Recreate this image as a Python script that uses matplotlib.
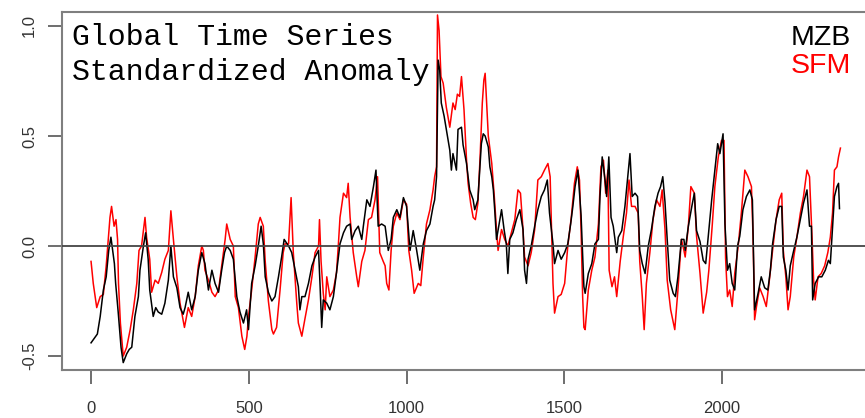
import numpy as np
import matplotlib
matplotlib.use("Agg")
import matplotlib.pyplot as plt

# values (index, standardized anomaly)
mzb_t = [0, 10, 20, 29, 39, 48, 56, 63, 74, 78, 86, 95, 102, 113, 121, 129, 139, 150, 155, 166,
         173, 181, 186, 197, 205, 213, 224, 234, 245, 253, 261, 272, 282, 292, 298, 308, 319, 330, 340, 351,
         361, 372, 383, 393, 404, 414, 423, 430, 441, 451, 462, 472, 483, 493, 499, 509, 520, 530, 539, 546,
         552, 562, 573, 583, 594, 604, 612, 626, 636, 647, 657, 662, 668, 678, 689, 700, 710, 721, 726, 731,
         736, 747, 757, 768, 778, 789, 800, 810, 821, 826, 837, 847, 858, 863, 874, 884, 895, 903, 910, 921,
         932, 942, 951, 958, 969, 979, 990, 1000, 1011, 1021, 1032, 1042, 1053, 1063, 1074, 1084, 1089, 1095, 1100, 1105,
         1110, 1119, 1126, 1137, 1142, 1147, 1158, 1163, 1174, 1179, 1190, 1200, 1211, 1216, 1226, 1232, 1237, 1243, 1249, 1259,
         1264, 1270, 1275, 1280, 1285, 1292, 1301, 1309, 1316, 1321, 1327, 1337, 1348, 1359, 1369, 1374, 1380, 1385, 1395, 1406,
         1416, 1427, 1437, 1446, 1453, 1464, 1469, 1480, 1490, 1501, 1511, 1520, 1527, 1534, 1543, 1553, 1562, 1566, 1576, 1587,
         1597, 1608, 1613, 1620, 1629, 1634, 1641, 1648, 1655, 1666, 1671, 1682, 1692, 1700, 1708, 1715, 1724, 1732, 1739, 1747,
         1756, 1766, 1776, 1787, 1797, 1805, 1812, 1819, 1826, 1834, 1845, 1852, 1860, 1871, 1879, 1883, 1893, 1904, 1912, 1919,
         1930, 1940, 1948, 1956, 1967, 1977, 1986, 1993, 2003, 2009, 2017, 2024, 2032, 2040, 2049, 2056, 2066, 2077, 2088, 2096,
         2103, 2114, 2124, 2135, 2145, 2153, 2160, 2171, 2181, 2189, 2194, 2202, 2209, 2216, 2227, 2237, 2248, 2258, 2269, 2277,
         2283, 2287, 2295, 2306, 2316, 2327, 2337, 2343, 2348, 2356, 2364, 2369, 2372]
mzb_v = [-0.44, -0.42, -0.40, -0.32, -0.20, -0.14, -0.02, 0.04, -0.08, -0.17, -0.30, -0.46, -0.53, -0.49, -0.47, -0.46, -0.32, -0.23, -0.11, 0.00,
         0.06, -0.06, -0.20, -0.32, -0.28, -0.30, -0.31, -0.26, -0.155, 0.00, -0.14, -0.19, -0.28, -0.31, -0.28, -0.21, -0.29, -0.23, -0.11, -0.03,
         -0.08, -0.20, -0.11, -0.17, -0.21, -0.11, -0.03, 0.00, -0.02, -0.06, -0.23, -0.30, -0.35, -0.29, -0.38, -0.17, -0.09, 0.00, 0.09, 0.01,
         -0.14, -0.21, -0.25, -0.23, -0.14, -0.05, 0.03, 0.00, -0.03, -0.11, -0.185, -0.29, -0.23, -0.23, -0.17, -0.09, -0.05, -0.02, -0.185, -0.37,
         -0.245, -0.26, -0.29, -0.23, -0.12, 0.01, 0.06, 0.09, 0.10, 0.03, 0.07, 0.09, 0.03, 0.09, 0.21, 0.18, 0.27, 0.345, 0.09, 0.10,
         0.09, -0.02, 0.03, 0.13, 0.165, 0.13, 0.22, 0.18, -0.02, 0.07, -0.02, -0.11, 0.01, 0.07, 0.10, 0.18, 0.21, 0.315, 0.845, 0.80,
         0.65, 0.59, 0.53, 0.435, 0.345, 0.42, 0.345, 0.53, 0.54, 0.46, 0.375, 0.255, 0.21, 0.165, 0.21, 0.345, 0.465, 0.51, 0.50, 0.45,
         0.36, 0.315, 0.255, 0.15, 0.03, 0.09, 0.165, 0.075, 0.01, -0.125, 0.03, 0.06, 0.12, 0.165, 0.075, -0.11, -0.17, -0.06, 0.00, 0.09,
         0.165, 0.225, 0.255, 0.30, 0.15, 0.01, -0.08, -0.02, -0.06, -0.03, 0.01, 0.10, 0.18, 0.27, 0.345, 0.14, -0.185, -0.215, -0.125, -0.08,
         0.01, 0.03, 0.225, 0.405, 0.30, 0.225, 0.405, 0.13, 0.09, -0.03, 0.04, 0.07, 0.18, 0.30, 0.42, 0.225, 0.24, 0.225, -0.02, -0.08,
         -0.125, 0.00, 0.075, 0.18, 0.24, 0.27, 0.315, 0.20, 0.03, -0.155, -0.215, -0.23, -0.14, 0.03, 0.03, -0.02, 0.09, 0.18, 0.24, 0.07,
         0.02, -0.065, -0.08, 0.04, 0.21, 0.345, 0.465, 0.42, 0.51, 0.10, -0.11, -0.08, -0.17, -0.20, 0.00, 0.045, 0.165, 0.225, 0.255, 0.21,
         -0.29, -0.215, -0.14, -0.19, -0.20, -0.11, 0.01, 0.12, 0.18, 0.18, -0.05, -0.11, -0.20, -0.09, -0.02, 0.04, 0.12, 0.195, 0.255, 0.09,
         0.09, -0.245, -0.17, -0.14, -0.14, -0.11, -0.065, -0.08, 0.04, 0.225, 0.27, 0.285, 0.17]

sfm_t = [0, 7, 18, 29, 39, 48, 60, 65, 73, 79, 84, 87, 93, 102, 113, 124, 134, 145, 152, 160,
         171, 176, 186, 192, 203, 213, 224, 234, 245, 253, 261, 272, 282, 296, 308, 319, 330, 340, 351, 356,
         361, 372, 383, 393, 404, 414, 425, 430, 441, 451, 457, 467, 478, 487, 494, 499, 509, 520, 530, 536,
         546, 552, 562, 573, 578, 588, 599, 609, 615, 626, 634, 641, 652, 657, 668, 678, 689, 700, 710, 721,
         724, 729, 736, 742, 747, 757, 768, 778, 784, 789, 800, 810, 815, 821, 831, 842, 847, 858, 868, 879,
         889, 900, 908, 915, 926, 932, 937, 944, 951, 958, 969, 979, 990, 1000, 1007, 1016, 1024, 1037, 1045, 1053,
         1063, 1074, 1084, 1089, 1095, 1098, 1103, 1109, 1116, 1126, 1137, 1147, 1154, 1161, 1168, 1174, 1182, 1190, 1195, 1203,
         1211, 1218, 1226, 1233, 1240, 1245, 1249, 1259, 1270, 1278, 1285, 1290, 1301, 1311, 1321, 1332, 1343, 1353, 1361, 1369,
         1374, 1385, 1395, 1406, 1416, 1427, 1437, 1448, 1455, 1464, 1469, 1480, 1490, 1501, 1511, 1522, 1532, 1541, 1548, 1553,
         1558, 1562, 1566, 1576, 1587, 1597, 1608, 1616, 1624, 1631, 1638, 1642, 1651, 1659, 1666, 1677, 1687, 1697, 1705, 1713,
         1724, 1734, 1739, 1747, 1753, 1760, 1771, 1781, 1792, 1803, 1810, 1819, 1826, 1837, 1850, 1860, 1871, 1879, 1883, 1893,
         1901, 1912, 1919, 1930, 1940, 1951, 1958, 1969, 1977, 1988, 1998, 2006, 2011, 2017, 2024, 2032, 2040, 2051, 2061, 2072,
         2082, 2093, 2098, 2103, 2109, 2119, 2130, 2140, 2151, 2160, 2171, 2181, 2189, 2194, 2202, 2209, 2216, 2227, 2237, 2248,
         2258, 2269, 2277, 2285, 2290, 2295, 2304, 2314, 2325, 2335, 2343, 2350, 2356, 2364, 2369, 2375]
sfm_v = [-0.07, -0.17, -0.28, -0.23, -0.22, -0.09, 0.13, 0.18, 0.09, 0.12, 0.03, -0.17, -0.35, -0.50, -0.46, -0.38, -0.29, -0.17, -0.02, 0.00,
         0.13, 0.04, -0.06, -0.21, -0.155, -0.17, -0.12, -0.06, -0.02, 0.16, 0.03, -0.14, -0.26, -0.37, -0.28, -0.32, -0.23, -0.09, 0.00, -0.02,
         -0.11, -0.155, -0.21, -0.23, -0.20, -0.09, 0.03, 0.10, 0.03, 0.00, -0.23, -0.28, -0.41, -0.47, -0.41, -0.32, -0.20, -0.05, 0.10, 0.13,
         0.09, -0.07, -0.25, -0.38, -0.40, -0.37, -0.20, -0.03, 0.01, 0.01, 0.22, -0.03, -0.26, -0.35, -0.41, -0.33, -0.245, -0.14, -0.03, 0.00,
         0.12, -0.07, -0.215, -0.29, -0.14, -0.23, -0.20, -0.12, 0.01, 0.13, 0.24, 0.22, 0.285, 0.13, -0.03, -0.14, -0.185, -0.07, -0.02, 0.12,
         0.13, 0.21, 0.315, -0.03, -0.07, -0.09, -0.17, -0.20, -0.02, 0.09, 0.15, 0.12, 0.21, 0.19, -0.02, -0.11, -0.215, -0.17, -0.18, -0.05,
         0.10, 0.165, 0.255, 0.315, 0.36, 1.05, 0.98, 0.77, 0.74, 0.63, 0.54, 0.65, 0.62, 0.69, 0.68, 0.77, 0.62, 0.39, 0.285, 0.195,
         0.13, 0.12, 0.195, 0.405, 0.65, 0.755, 0.785, 0.50, 0.375, 0.225, 0.075, -0.02, 0.075, 0.03, 0.00, 0.06, 0.12, 0.255, 0.24, 0.075,
         -0.05, -0.09, -0.03, 0.075, 0.30, 0.315, 0.345, 0.375, 0.315, -0.17, -0.305, -0.23, -0.22, -0.17, 0.00, 0.13, 0.285, 0.36, 0.30, 0.075,
         -0.23, -0.37, -0.38, -0.20, -0.11, -0.05, 0.10, 0.36, 0.39, 0.24, 0.345, -0.11, -0.185, -0.14, -0.23, -0.07, 0.045, 0.15, 0.30, 0.18,
         0.18, 0.15, -0.07, -0.23, -0.38, -0.17, -0.03, 0.12, 0.21, 0.18, 0.255, 0.075, -0.155, -0.29, -0.38, -0.20, 0.03, -0.02, -0.05, 0.09,
         0.27, 0.24, 0.045, -0.125, -0.305, -0.21, -0.11, 0.10, 0.27, 0.405, 0.48, 0.48, -0.055, -0.23, -0.20, -0.275, -0.125, 0.00, 0.15, 0.345,
         0.315, 0.27, 0.045, -0.335, -0.275, -0.19, -0.23, -0.275, -0.14, -0.02, 0.12, 0.21, 0.24, -0.02, -0.14, -0.29, -0.23, -0.05, 0.04, 0.15,
         0.225, 0.345, 0.315, 0.04, -0.155, -0.245, -0.14, -0.125, -0.09, -0.03, 0.04, 0.15, 0.345, 0.36, 0.405, 0.445]

x_ticks = [0, 500, 1000, 1500, 2000]
y_ticks = [-0.5, 0.0, 0.5, 1.0]

tick_font = ['Liberation Sans Narrow', 'Liberation Sans', 'DejaVu Sans']
W, H = 865.0, 418.0

fig = plt.figure(figsize=(8.65, 4.18), dpi=100)
ax = fig.add_axes([0.0717, 0.1148, 0.9433, 0.8565])

ax.plot(sfm_t, sfm_v, color='red', lw=1.1, zorder=2)
ax.plot(mzb_t, mzb_v, color='black', lw=1.1, zorder=3)
ax.axhline(0, color='#444444', lw=1.3, zorder=4)

ax.set_xlim(-92, 2494)
ax.set_ylim(-0.5636, 1.0636)

for s in ax.spines.values():
    s.set_color('#7f7f7f')
    s.set_linewidth(1.5)

ax.set_xticks(x_ticks)
ax.set_yticks(y_ticks)
ax.set_xticklabels([str(v) for v in x_ticks], family=tick_font, fontsize=12, color='#333333')
ax.set_yticklabels(['%.1f' % v for v in y_ticks], family=tick_font, fontsize=12, color='#333333',
                   rotation=90, va='center')
ax.tick_params(axis='x', length=10, width=1.2, color='#555555', pad=12)
ax.tick_params(axis='y', length=10, width=1.2, color='#555555', pad=8)

# title lines, positioned in pixels from top-left
mono = ['Liberation Mono', 'DejaVu Sans Mono']
fig.text(72 / W, 1 - 45 / H, 'Global Time Series', fontsize=21.5, family=mono,
         color='black', va='baseline', ha='left')
fig.text(72 / W, 1 - 80 / H, 'Standardized Anomaly', fontsize=21.5, family=mono,
         color='black', va='baseline', ha='left')

# legend labels top right
sans = ['Liberation Sans', 'DejaVu Sans']
fig.text(791 / W, 1 - 45 / H, 'MZB', fontsize=20.5, family=sans,
         color='black', va='baseline', ha='left')
fig.text(791 / W, 1 - 73 / H, 'SFM', fontsize=20.5, family=sans,
         color='red', va='baseline', ha='left')

fig.savefig('out.png', dpi=100)
